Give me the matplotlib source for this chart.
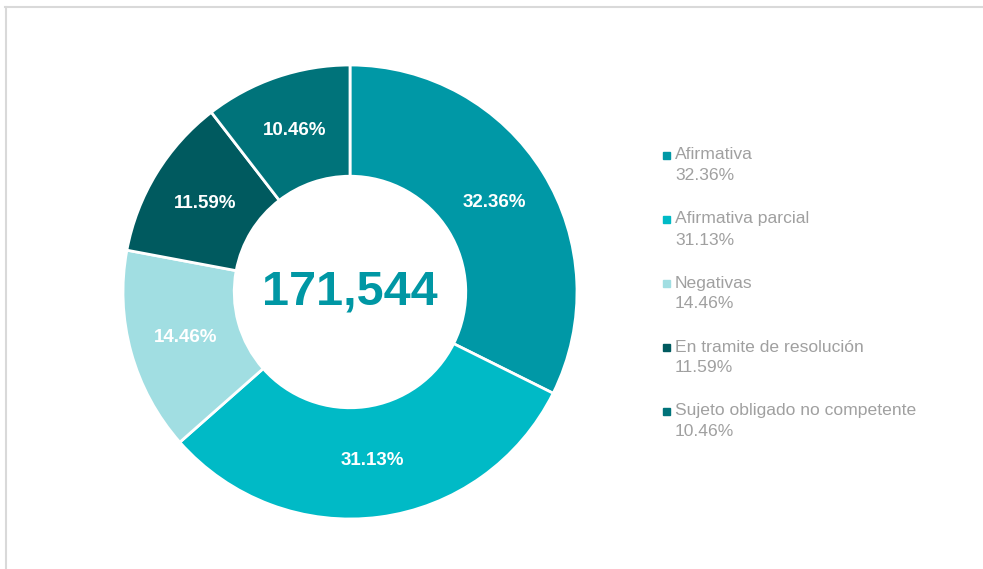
"""
Donut chart: solicitudes por tipo de respuesta
"""

import matplotlib.pyplot as plt
from matplotlib.patches import Rectangle
from matplotlib.lines import Line2D

categories = ["Afirmativa", "Afirmativa parcial", "Negativas",
              "En tramite de resolución", "Sujeto obligado no competente"]
percents = [32.36, 31.13, 14.46, 11.59, 10.46]
total = "171,544"
colors = ["#0098A6", "#00BAC6", "#A1DEE2", "#005A5F", "#00737A"]

W, H = 983, 569
plt.rcParams['font.family'] = ['Liberation Sans', 'DejaVu Sans']

fig = plt.figure(figsize=(W / 100, H / 100), dpi=100)

# donut, center (350, 292) px, outer radius 227 px
cx, cy, r = 350, 292, 227
ax = fig.add_axes([(cx - r) / W, (H - cy - r) / H, 2 * r / W, 2 * r / H])
wedges, texts, autotexts = ax.pie(
    percents, colors=colors, startangle=90, counterclock=False,
    radius=1, autopct=lambda p: "", pctdistance=0.75,
    wedgeprops=dict(width=0.49, edgecolor="white", linewidth=2))
for t, p in zip(autotexts, percents):
    t.set_text("{:.2f}%".format(p))
    t.set_color("white")
    t.set_fontsize(13.5)
    t.set_fontweight("bold")
ax.set_xlim(-1, 1)
ax.set_ylim(-1, 1)
ax.set_aspect("equal")
ax.axis("off")

ax.text(0, 0, total, ha="center", va="center", fontsize=35,
        fontweight="bold", color="#0097A4")

# legend drawn by hand
lx, ly0, step = 675, 155, 64
for i, (cat, p) in enumerate(zip(categories, percents)):
    y = ly0 + i * step
    fig.patches.append(Rectangle(((lx - 12) / W, 1 - (y + 4) / H), 7 / W, 7 / H,
                                 transform=fig.transFigure, color=colors[i]))
    fig.text(lx / W, 1 - y / H, cat, ha="left", va="center",
             fontsize=12.6, color="#A0A0A0")
    fig.text(lx / W, 1 - (y + 21) / H, "{:.2f}%".format(p), ha="left",
             va="center", fontsize=12.6, color="#A0A0A0")

# light frame (top and left)
fig.lines.append(Line2D([5 / W, 1], [1 - 6.5 / H, 1 - 6.5 / H],
                        transform=fig.transFigure, color="#D9D9D9", lw=1.5))
fig.lines.append(Line2D([5.5 / W, 5.5 / W], [0, 1 - 6.5 / H],
                        transform=fig.transFigure, color="#D9D9D9", lw=1.5))

fig.savefig("out.png", dpi=100, facecolor="white")
